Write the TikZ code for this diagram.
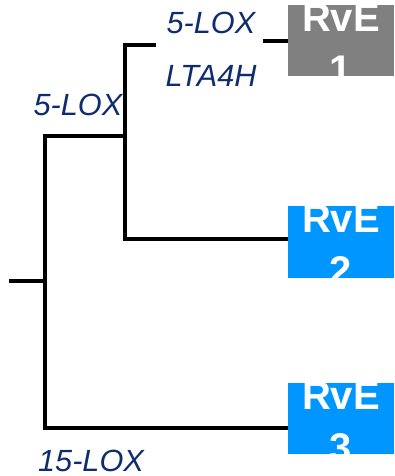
\documentclass[tikz,border=0pt]{standalone}
\usepackage{fontspec}
\setmainfont{Liberation Sans}
\usetikzlibrary{positioning}
\definecolor{enzyme}{HTML}{0F2D6E}
\definecolor{rvgray}{HTML}{808080}
\definecolor{rvblue}{HTML}{0096FF}
\tikzset{
  branch/.style={draw=black,line width=3.2pt,line join=miter},
  rvbox/.style={minimum width=79.5pt,minimum height=53.5pt,inner sep=0pt},
  rvlabel/.style={text=white,font=\fontsize{30}{39}\selectfont\bfseries,align=center,inner sep=0pt},
  enz/.style={text=enzyme,font=\fontsize{23}{27}\selectfont\itshape,inner sep=0pt}
}
\begin{document}
\begin{tikzpicture}[x=0.75pt,y=-0.75pt]
  \useasboundingbox (0,0) rectangle (395,476);
  % resolvin boxes
  \foreach \n/\c/\y in {1/rvgray/40.5,2/rvblue/242,3/rvblue/418.5}{
    \node[rvbox,fill=\c] (rve\n) at (341,\y) {};
    \begin{scope}
      \clip (rve\n.south west) rectangle (rve\n.north east);
      \node[rvlabel] at ([yshift=-2.25pt]rve\n.center) {RvE\\\n};
    \end{scope}}
  % tree
  \coordinate (root) at (9,281);
  \coordinate (fork) at (45,281);
  \coordinate (top) at (45,136);
  \coordinate (bot) at (45,428);
  \coordinate (mid) at (125,136);
  \coordinate (up) at (125,45);
  \coordinate (low) at (125,239);
  \coordinate (gapL) at (156,45);
  \coordinate (gapR) at (263,41);
  \draw[branch] (root) -- (fork);
  \draw[branch] (mid) -- (top) -- (bot) -- (bot -| rve3.west);
  \draw[branch] (gapL) -- (up) -- (low) -- (low -| rve2.west);
  \draw[branch] (gapR) -- (gapR -| rve1.west);
  % enzymes
  \node[enz] (loxa) at (211,23) {5-LOX};
  \node[enz] (lta) at (211,76) {LTA4H};
  \node[enz] (loxb) at (78,105) {5-LOX};
  \node[enz] (loxc) at (91,461) {15-LOX};
\end{tikzpicture}
\end{document}
